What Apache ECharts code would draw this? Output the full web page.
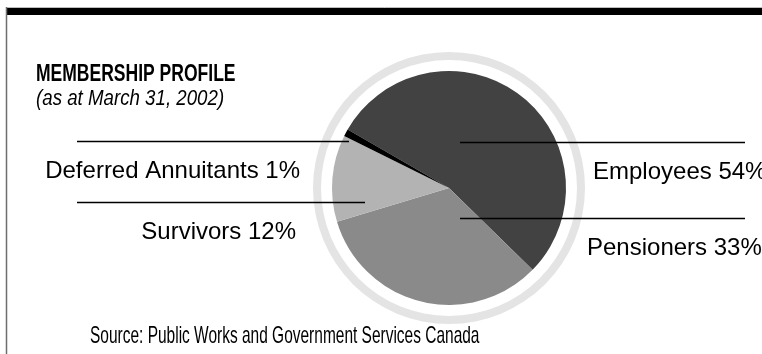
<!DOCTYPE html>
<html>
<head>
<meta charset="utf-8">
<script src="https://cdn.jsdelivr.net/npm/echarts@6/dist/echarts.min.js"></script>
<style>
html,body{margin:0;padding:0;background:#fff;}
#chart{width:762px;height:354px;}
</style>
</head>
<body>
<div id="chart"></div>
<script>
// ---- data ----
var categories = ['Employees', 'Pensioners', 'Survivors', 'Deferred Annuitants'];
var shares = [54, 33, 12, 1];
var sliceColors = ['#424242', '#8a8a8a', '#b3b3b3', '#000000'];
var titleText = 'MEMBERSHIP PROFILE';
var subtitleText = '(as at March 31, 2002)';
var sourceText = 'Source: Public Works and Government Services Canada';

// ---- label layout (annotation placement) ----
var labelPlacement = [
  {side: 'right', lineY: 142.5, textY: 172, lineFrom: 460, lineTo: 745, textX: 593},
  {side: 'right', lineY: 218.5, textY: 248, lineFrom: 460, lineTo: 745, textX: 587},
  {side: 'left',  lineY: 202.5, textY: 232, lineFrom: 365, lineTo: 77,  textX: 296},
  {side: 'left',  lineY: 141.5, textY: 171, lineFrom: 349, lineTo: 77,  textX: 300}
];

var REG = "'Liberation Sans',Arial,sans-serif";

var chart = echarts.init(document.getElementById('chart'), null, {renderer: 'canvas'});

var pieData = categories.map(function (c, i) {
  return {name: c, value: shares[i], itemStyle: {color: sliceColors[i]}};
});
var labelData = categories.map(function (c, i) {
  return {name: c, value: shares[i], itemStyle: {color: 'rgba(0,0,0,0)'}};
});

chart.setOption({
  backgroundColor: '#fff',
  animation: false,
  graphic: [
    {type: 'rect', shape: {x: 7, y: 8, width: 760, height: 7}, style: {fill: '#000'}, silent: true},
    {type: 'line', shape: {x1: 7, y1: 7.5, x2: 762, y2: 7.5}, style: {stroke: '#bdbdbd', lineWidth: 1}, silent: true},
    {type: 'line', shape: {x1: 6.5, y1: 7, x2: 6.5, y2: 354}, style: {stroke: '#6e6e6e', lineWidth: 1.5}, silent: true},
    {type: 'text', x: 36, y: 74, scaleX: 0.73, silent: true,
      style: {text: titleText, font: 'bold 24px ' + REG, fill: '#000', textVerticalAlign: 'middle'}},
    {type: 'text', x: 36, y: 99, scaleX: 0.85, silent: true,
      style: {text: subtitleText, font: 'italic 22px ' + REG, fill: '#000', textVerticalAlign: 'middle'}},
    {type: 'text', x: 90, y: 336, scaleX: 0.645, silent: true,
      style: {text: sourceText, font: '24px ' + REG, fill: '#000', textVerticalAlign: 'middle'}}
  ],
  series: [
    {
      type: 'pie',
      silent: true,
      center: [449, 188],
      radius: [128, 136],
      label: {show: false},
      labelLine: {show: false},
      data: [{value: 1, itemStyle: {color: '#e4e4e4'}}],
      z: 1
    },
    {
      type: 'pie',
      silent: true,
      center: [449, 188],
      radius: [0, 117],
      startAngle: 150,
      clockwise: true,
      data: pieData,
      z: 2,
      label: {show: false},
      labelLine: {show: false}
    },
    {
      type: 'pie',
      silent: true,
      center: [449, 188],
      radius: [0, 117],
      startAngle: 150,
      clockwise: true,
      data: labelData,
      z: 5,
      label: {
        show: true,
        formatter: function (p) { return p.name + ' ' + p.value + '%'; },
        fontFamily: REG,
        fontSize: 24,
        color: '#000'
      },
      labelLine: {show: true, lineStyle: {color: '#000', width: 1.3}},
      labelLayout: function (params) {
        var pl = labelPlacement[params.dataIndex];
        return {
          x: pl.textX,
          y: pl.textY,
          align: pl.side === 'left' ? 'right' : 'left',
          verticalAlign: 'middle',
          labelLinePoints: [[pl.lineFrom, pl.lineY], [pl.lineTo, pl.lineY], [pl.lineTo, pl.lineY]]
        };
      }
    }
  ]
});
</script>
</body>
</html>
